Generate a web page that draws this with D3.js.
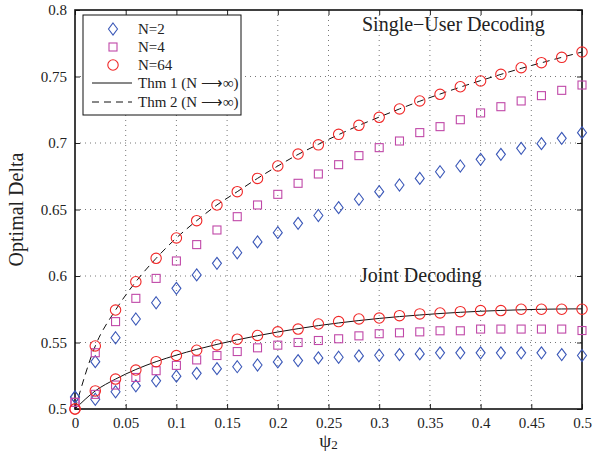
<!DOCTYPE html>
<html>
<head>
<meta charset="utf-8">
<script src="https://cdn.jsdelivr.net/npm/d3@7"></script>
<style>
  body { margin: 0; background: #fff; }
  svg text { font-family: "Liberation Serif", "Times New Roman", serif; fill: #222; }
</style>
</head>
<body>
<div id="chart"></div>
<script>
//== DATA ================================================//
var psi = [0, 0.02, 0.04, 0.06, 0.08, 0.10, 0.12, 0.14, 0.16, 0.18, 0.20, 0.22, 0.24,
    0.26, 0.28, 0.30, 0.32, 0.34, 0.36, 0.38, 0.40, 0.42, 0.44, 0.46, 0.48, 0.50];

// single-user decoding
var suN2 = [0.509, 0.5356, 0.5536, 0.5677, 0.5799, 0.5907, 0.6008, 0.6095, 0.6175, 0.6256, 0.6326, 0.6396, 0.6455,
    0.6514, 0.6577, 0.6634, 0.6684, 0.6734, 0.6784, 0.6827, 0.6877, 0.6915, 0.696, 0.6995, 0.7035, 0.7078];
var suN4 = [0.505, 0.5423, 0.5657, 0.5832, 0.5982, 0.6113, 0.6236, 0.6346, 0.6446, 0.6534, 0.6614, 0.6697, 0.6767,
    0.6837, 0.6905, 0.6965, 0.7015, 0.7078, 0.7123, 0.7175, 0.7226, 0.7273, 0.7316, 0.7356, 0.7396, 0.7436];
var suN64 = [0.5, 0.5474, 0.5744, 0.5957, 0.6133, 0.6286, 0.6416, 0.6534, 0.6634, 0.6734, 0.6827, 0.6917, 0.6986,
    0.7065, 0.7133, 0.7193, 0.7256, 0.7316, 0.7366, 0.7423, 0.7466, 0.7516, 0.7566, 0.7604, 0.7644, 0.7684];
var thm2 = [0.5, 0.5474, 0.5744, 0.5957, 0.6133, 0.6286, 0.6416, 0.6534, 0.6634, 0.6734, 0.6827, 0.6914, 0.6990,
    0.7063, 0.7132, 0.7195, 0.7256, 0.7314, 0.7368, 0.7420, 0.7469, 0.7516, 0.7561, 0.7603, 0.7644, 0.7684];

// joint decoding
var jdN2 = [0.509, 0.5073, 0.513, 0.5174, 0.5212, 0.5247, 0.5268, 0.5303, 0.5318, 0.5331, 0.5354, 0.5364, 0.5384,
    0.5389, 0.5399, 0.5404, 0.5409, 0.5414, 0.5422, 0.5422, 0.5422, 0.5422, 0.5422, 0.5422, 0.5409, 0.5402];
var jdN4 = [0.505, 0.511, 0.518, 0.5237, 0.5288, 0.5328, 0.5369, 0.5402, 0.5432, 0.546, 0.548, 0.55, 0.5515,
    0.5528, 0.555, 0.5566, 0.5573, 0.558, 0.5588, 0.5588, 0.5601, 0.5601, 0.5601, 0.5601, 0.5601, 0.559];
var jdN64 = [0.5, 0.5136, 0.5225, 0.5293, 0.5356, 0.5402, 0.5442, 0.5482, 0.5525, 0.5553, 0.558, 0.5601, 0.5639,
    0.5657, 0.5677, 0.5684, 0.5702, 0.5715, 0.5722, 0.5732, 0.574, 0.574, 0.575, 0.575, 0.575, 0.575];
var thm1 = [0.5, 0.5136, 0.5225, 0.5297, 0.5356, 0.5405, 0.5448, 0.5486, 0.5520, 0.5551, 0.5579, 0.5604, 0.5627,
    0.5647, 0.5665, 0.5681, 0.5695, 0.5707, 0.5718, 0.5727, 0.5735, 0.5741, 0.5746, 0.5750, 0.5752, 0.5753];

var xTicks = [0, 0.05, 0.1, 0.15, 0.2, 0.25, 0.3, 0.35, 0.4, 0.45, 0.5];
var yTicks = [0.5, 0.55, 0.6, 0.65, 0.7, 0.75, 0.8];
var legendLabels = ["N=2", "N=4", "N=64", "Thm 1 (N \u27F6\u221E)", "Thm 2 (N \u27F6\u221E)"];

var colors = { n2: "#3b58b8", n4: "#c048a8", n64: "#f02828" };

//== PLOT ================================================//
var W = 607, H = 453;
var margin = { top: 10, right: 25, bottom: 44, left: 75 },
    width = W - margin.left - margin.right,
    height = H - margin.top - margin.bottom;

var svg = d3.select("#chart")
    .append("svg")
    .attr("width", W)
    .attr("height", H)
    .append("g")
    .attr("transform", "translate(" + margin.left + "," + margin.top + ")");

var x = d3.scaleLinear().domain([0, 0.5]).range([0, width]);
var y = d3.scaleLinear().domain([0.5, 0.8]).range([height, 0]);

// grid
var grid = svg.append("g").attr("class", "grid");
grid.selectAll(".gx").data(xTicks.slice(1, -1)).enter().append("line")
    .attr("x1", d => x(d)).attr("x2", d => x(d))
    .attr("y1", 0).attr("y2", height);
grid.selectAll(".gy").data(yTicks.slice(1, -1)).enter().append("line")
    .attr("y1", d => y(d)).attr("y2", d => y(d))
    .attr("x1", 0).attr("x2", width);
grid.selectAll("line")
    .attr("stroke", "#777")
    .attr("stroke-width", 1)
    .attr("stroke-dasharray", "1,4");

// axes (ticks inward on all sides)
var fmt = d => String(+d.toFixed(2));
svg.append("g")
    .attr("transform", "translate(0," + height + ")")
    .call(d3.axisBottom(x).tickValues(xTicks).tickSizeInner(-5).tickSizeOuter(0).tickPadding(8).tickFormat(fmt));
svg.append("g")
    .call(d3.axisTop(x).tickValues(xTicks).tickSizeInner(-5).tickSizeOuter(0).tickFormat(""));
svg.append("g")
    .call(d3.axisLeft(y).tickValues(yTicks).tickSizeInner(-5).tickSizeOuter(0).tickPadding(8).tickFormat(fmt));
svg.append("g")
    .attr("transform", "translate(" + width + ",0)")
    .call(d3.axisRight(y).tickValues(yTicks).tickSizeInner(-5).tickSizeOuter(0).tickFormat(""));
svg.selectAll(".domain").remove();
svg.selectAll(".tick line").attr("stroke", "#222").attr("stroke-width", 1);
svg.selectAll(".tick text").style("font-size", "15px").attr("fill", "#222");

svg.append("rect")
    .attr("width", width).attr("height", height)
    .attr("fill", "none").attr("stroke", "#111").attr("stroke-width", 1.6);

// theory lines
var line = d3.line()
    .x((d, i) => x(psi[i]))
    .y(d => y(d))
    .curve(d3.curveMonotoneX);
svg.append("path").datum(thm1)
    .attr("d", line).attr("fill", "none")
    .attr("stroke", "#111").attr("stroke-width", 1);
svg.append("path").datum(thm2)
    .attr("d", line).attr("fill", "none")
    .attr("stroke", "#111").attr("stroke-width", 1)
    .attr("stroke-dasharray", "7,5");

// markers
var diamond = function (g, px, py, c) {
    g.append("path")
        .attr("d", "M" + px + "," + (py - 6) + "L" + (px + 4.5) + "," + py + "L" + px + "," + (py + 6) + "L" + (px - 4.5) + "," + py + "Z")
        .attr("fill", "none").attr("stroke", c).attr("stroke-width", 1.1);
};
var square = function (g, px, py, c) {
    g.append("rect")
        .attr("x", px - 4).attr("y", py - 4).attr("width", 8).attr("height", 8)
        .attr("fill", "none").attr("stroke", c).attr("stroke-width", 1.1);
};
var circle = function (g, px, py, c) {
    g.append("circle")
        .attr("cx", px).attr("cy", py).attr("r", 5.2)
        .attr("fill", "none").attr("stroke", c).attr("stroke-width", 1.1);
};

var marks = svg.append("g");
var series = [
    [suN2, diamond, colors.n2], [jdN2, diamond, colors.n2],
    [suN4, square, colors.n4], [jdN4, square, colors.n4],
    [suN64, circle, colors.n64], [jdN64, circle, colors.n64]
];
series.forEach(function (s) {
    for (var ii = 0; ii < psi.length; ii++) {
        s[1](marks, x(psi[ii]), y(s[0][ii]), s[2]);
    }
});

// annotations
svg.append("text")
    .attr("x", x(0.283)).attr("y", 21)
    .style("font-size", "20px")
    .text("Single\u2212User Decoding");
svg.append("text")
    .attr("x", x(0.281)).attr("y", 272)
    .style("font-size", "20px")
    .text("Joint Decoding");

// axis labels
svg.append("text")
    .attr("text-anchor", "middle")
    .attr("transform", "translate(-52," + (height / 2) + ")rotate(-90)")
    .style("font-size", "20px")
    .text("Optimal Delta");
var xl = svg.append("text")
    .attr("text-anchor", "middle")
    .attr("x", width / 2)
    .attr("y", height + 38)
    .style("font-size", "19px");
xl.append("tspan").text("\u03C8");
xl.append("tspan").attr("dy", 2).style("font-size", "13px").text("2");

// legend
var lg = svg.append("g").attr("transform", "translate(8,5)");
lg.append("rect")
    .attr("width", 158).attr("height", 100)
    .attr("fill", "#fff").attr("stroke", "#111").attr("stroke-width", 1);
var rowY = [14, 32, 50, 68, 87];
diamond(lg, 30, rowY[0], colors.n2);
square(lg, 30, rowY[1], colors.n4);
circle(lg, 30, rowY[2], colors.n64);
lg.append("line").attr("x1", 9).attr("x2", 49).attr("y1", rowY[3]).attr("y2", rowY[3])
    .attr("stroke", "#111").attr("stroke-width", 1);
lg.append("line").attr("x1", 9).attr("x2", 49).attr("y1", rowY[4]).attr("y2", rowY[4])
    .attr("stroke", "#111").attr("stroke-width", 1).attr("stroke-dasharray", "7,5");
lg.selectAll(".lt").data(legendLabels).enter().append("text")
    .attr("x", 55)
    .attr("y", (d, i) => rowY[i] + 5)
    .style("font-size", "15px")
    .text(d => d);
</script>
</body>
</html>
